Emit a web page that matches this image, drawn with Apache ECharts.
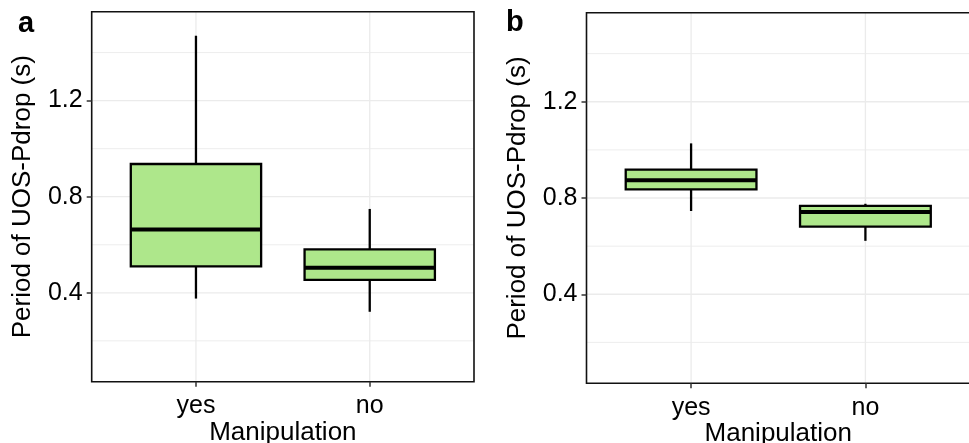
<!DOCTYPE html>
<html>
<head>
<meta charset="utf-8">
<script src="https://cdn.jsdelivr.net/npm/echarts@6/dist/echarts.min.js"></script>
<style>
  html, body { margin: 0; padding: 0; background: #fff; }
  #chart { width: 969px; height: 443px; }
</style>
</head>
<body>
<div id="chart"></div>
<script>
const categories = ['yes', 'no'];
// each box: [lower whisker, Q1, median, Q3, upper whisker]
const boxesA = [[0.376, 0.51, 0.664, 0.936, 1.47], [0.321, 0.454, 0.504, 0.581, 0.749]];
const boxesB = [[0.746, 0.836, 0.874, 0.918, 1.027], [0.622, 0.681, 0.742, 0.767, 0.776]];
const yTicks = [0.4, 0.8, 1.2];
const yMinor = [0.2, 0.6, 1.0, 1.4];
const yRange = [0.03, 1.57];
const xRange = [0.4, 2.6];
const panelLabels = ['a', 'b'];

const font = '"Liberation Sans", Arial, Helvetica, sans-serif';
const boxHalf = 0.375;

function renderBox(params, api) {
  const x = api.value(0);
  const top = api.coord([x, api.value(5)]);
  const bot = api.coord([x, api.value(1)]);
  const tl = api.coord([x - boxHalf, api.value(4)]);
  const br = api.coord([x + boxHalf, api.value(2)]);
  const m1 = api.coord([x - boxHalf, api.value(3)]);
  const m2 = api.coord([x + boxHalf, api.value(3)]);
  const ls = { stroke: '#000', lineWidth: 2.3 };
  return {
    type: 'group',
    children: [
      { type: 'line', shape: { x1: top[0], y1: top[1], x2: top[0], y2: tl[1] }, style: ls },
      { type: 'line', shape: { x1: bot[0], y1: bot[1], x2: bot[0], y2: br[1] }, style: ls },
      { type: 'rect', shape: { x: tl[0], y: tl[1], width: br[0] - tl[0], height: br[1] - tl[1] },
        style: { fill: '#aee78b', stroke: '#000', lineWidth: 2.3 } },
      { type: 'line', shape: { x1: m1[0], y1: m1[1], x2: m2[0], y2: m2[1] },
        style: { stroke: '#000', lineWidth: 4 } }
    ]
  };
}

function gridRenderer(width) {
  return function (params, api) {
    const p1 = api.coord([api.value(0), api.value(1)]);
    const p2 = api.coord([api.value(2), api.value(3)]);
    return { type: 'line', shape: { x1: p1[0], y1: p1[1], x2: p2[0], y2: p2[1] },
      style: { stroke: '#ebebeb', lineWidth: width } };
  };
}

const majorLines = yTicks.map(v => [xRange[0], v, xRange[1], v])
  .concat(categories.map((c, i) => [i + 1, yRange[0], i + 1, yRange[1]]));
const minorLines = yMinor.map(v => [xRange[0], v, xRange[1], v]);

const grids = [
  { left: 91.7, top: 11.7, width: 382.3, height: 370 },
  { left: 586.5, top: 12.7, width: 383.5, height: 370.6 }
];

const xAxes = grids.map((g, i) => ({
  type: 'value', gridIndex: i, min: xRange[0], max: xRange[1],
  name: 'Manipulation', nameLocation: 'middle', nameGap: 38, nameMoveOverlap: false,
  nameTextStyle: { fontFamily: font, fontSize: 26, color: '#000' },
  axisLine: { show: false },
  axisTick: { show: true, customValues: [1, 2], length: 5, lineStyle: { color: '#333', width: 1.5 } },
  axisLabel: { customValues: [1, 2], margin: 12, fontFamily: font, fontSize: 25, color: '#000',
    formatter: v => categories[Math.round(v) - 1] || '' },
  splitLine: { show: false }
}));

const yAxes = grids.map((g, i) => ({
  type: 'value', gridIndex: i, min: yRange[0], max: yRange[1],
  name: 'Period of UOS-Pdrop (s)', nameLocation: 'middle', nameGap: 56, nameMoveOverlap: false,
  nameTextStyle: { fontFamily: font, fontSize: 26, color: '#000' },
  axisLine: { show: false },
  axisTick: { show: true, customValues: yTicks, length: 5, lineStyle: { color: '#333', width: 1.5 } },
  axisLabel: { customValues: yTicks, margin: 9, fontFamily: font, fontSize: 25, color: '#000',
    formatter: v => v.toFixed(1) },
  splitLine: { show: false }
}));

const series = [];
[boxesA, boxesB].forEach((boxes, i) => {
  series.push({ type: 'custom', xAxisIndex: i, yAxisIndex: i, z: -1, silent: true,
    renderItem: gridRenderer(0.9), encode: { x: [0, 2], y: [1, 3] }, data: minorLines });
  series.push({ type: 'custom', xAxisIndex: i, yAxisIndex: i, z: -1, silent: true,
    renderItem: gridRenderer(1.3), encode: { x: [0, 2], y: [1, 3] }, data: majorLines });
  series.push({ type: 'custom', xAxisIndex: i, yAxisIndex: i, z: 3,
    renderItem: renderBox, encode: { x: 0, y: [1, 2, 3, 4, 5] },
    data: boxes.map((b, k) => [k + 1].concat(b)) });
});

const chart = echarts.init(document.getElementById('chart'), null, { renderer: 'canvas' });
chart.setOption({
  animation: false,
  backgroundColor: '#fff',
  title: [
    { text: panelLabels[0], left: 13, top: 4, textStyle: { fontFamily: font, fontSize: 29, fontWeight: 'bold', color: '#000' } },
    { text: panelLabels[1], left: 501, top: 3, textStyle: { fontFamily: font, fontSize: 29, fontWeight: 'bold', color: '#000' } }
  ],
  grid: grids.map(g => Object.assign({
    show: true, borderColor: '#111', borderWidth: 1.6, backgroundColor: 'transparent',
    containLabel: false, outerBoundsMode: 'none'
  }, g)),
  xAxis: xAxes,
  yAxis: yAxes,
  series: series
});
</script>
</body>
</html>
